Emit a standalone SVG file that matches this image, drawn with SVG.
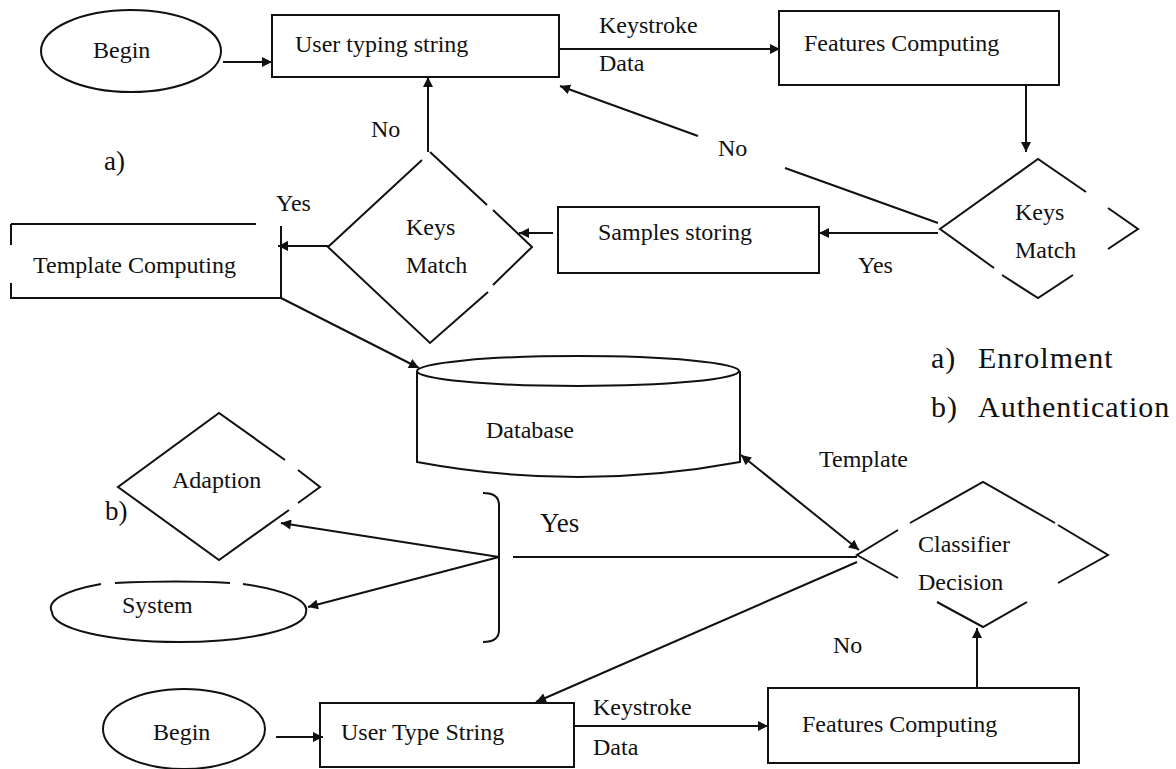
<svg xmlns="http://www.w3.org/2000/svg" width="1176" height="769" viewBox="0 0 1176 769">
<style>
.s{fill:none;stroke:#111;stroke-width:2}
.t{font-family:'Liberation Serif','DejaVu Serif',serif;font-size:24px;fill:#111}
.big{font-size:27px}
.leg{font-size:30px;letter-spacing:1px}
</style>
<defs>
<marker id="ah" viewBox="0 0 10 10" refX="10" refY="5" markerWidth="11" markerHeight="10" orient="auto-start-reverse" markerUnits="userSpaceOnUse"><path d="M0,0 L10,5 L0,10 z" fill="#111"/></marker>
</defs>
<rect width="1176" height="769" fill="#fff"/>

<g id="begin1"><ellipse class="s" cx="131" cy="51" rx="90" ry="41"/><text class="t" x="93" y="58">Begin</text></g>
<g id="userTyping"><rect class="s" x="272" y="15" width="287" height="62"/><text class="t" x="295" y="52">User typing string</text></g>
<g id="features1"><rect class="s" x="779" y="11" width="280" height="74"/><text class="t" x="804" y="51">Features Computing</text></g>
<g id="keysMatchR"><path class="s" d="M994,268 L940,229 L1038,159 L1086,192 M1108,208 L1138,229 L1108,249 M1073,275 L1038,298 L1002,275"/><text class="t" x="1015" y="220">Keys</text><text class="t" x="1015" y="258">Match</text></g>
<g id="samples"><rect class="s" x="558" y="207" width="261" height="66"/><text class="t" x="598" y="240">Samples storing</text></g>
<g id="keysMatchL"><path class="s" d="M422,160 L328,247 L430,343 L488,292 M493,285 L532,247 L493,210 M487,205 L430,152"/><text class="t" x="406" y="235">Keys</text><text class="t" x="406" y="273">Match</text></g>
<g id="template"><path class="s" d="M11,224 L256,224 M281,226 L281,298 L11,298 L11,283 M11,245 L11,224"/><text class="t" x="33" y="273">Template Computing</text></g>
<g id="database"><path class="s" d="M417,371 L417,462 Q578,492 740,462 L740,371"/><ellipse class="s" cx="578" cy="371" rx="161" ry="15"/><text class="t" x="486" y="438">Database</text></g>
<g id="classifier"><path class="s" d="M898,530 L857,555 L898,578 M910,523 L983,482 L1055,523 M1058,525 L1108,555 L1058,583 M937,602 L983,627 L1027,602"/><text class="t" x="918" y="552">Classifier</text><text class="t" x="918" y="590">Decision</text></g>
<g id="adaption"><path class="s" d="M285,460 L219,413 L118,487 L219,560 L289,510 M298,503 L320,487 L298,470"/><text class="t" x="172" y="488">Adaption</text></g>
<g id="system"><path class="s" d="M243,584 A127,30 0 0 1 306,612 A127,30 0 0 1 52,612 A127,30 0 0 1 101,584 M115,583 Q179,580 230,583"/><text class="t" x="122" y="613">System</text></g>
<g id="bracket"><path class="s" d="M483,493 Q499,493 499,505 L499,630 Q499,642 483,642"/></g>
<g id="begin2"><ellipse class="s" cx="184" cy="729" rx="81" ry="40"/><text class="t" x="153" y="740">Begin</text></g>
<g id="userType"><rect class="s" x="320" y="703" width="254" height="64"/><text class="t" x="341" y="740">User Type String</text></g>
<g id="features2"><rect class="s" x="768" y="688" width="311" height="75"/><text class="t" x="802" y="732">Features Computing</text></g>

<g id="connectors" class="s" marker-end="url(#ah)">
<path d="M223,62 L272,62"/>
<path d="M559,49 L780,49"/>
<path d="M1026,85 L1026,152"/>
<path d="M938,223 L785,168" marker-end="none"/>
<path d="M698,136 L560,86"/>
<path d="M938,233 L819,233"/>
<path d="M553,233 L519,233"/>
<path d="M428,152 L428,77"/>
<path d="M329,246 L278,246"/>
<path d="M281,298 L419,368"/>
<path d="M741,455 L859,550" marker-start="url(#ah)"/>
<path d="M857,557 L513,557" marker-end="none"/>
<path d="M499,557 L281,523"/>
<path d="M499,557 L308,607"/>
<path d="M857,562 L536,702"/>
<path d="M276,737 L323,737"/>
<path d="M574,726 L768,726"/>
<path d="M977,688 L977,628"/>
</g>

<g id="labels">
<text class="t" x="599" y="33">Keystroke</text>
<text class="t" x="599" y="71">Data</text>
<text class="t" x="718" y="156">No</text>
<text class="t" x="858" y="273">Yes</text>
<text class="t" x="371" y="137">No</text>
<text class="t" x="276" y="211">Yes</text>
<text class="t big" x="104" y="170">a)</text>
<text class="t" x="819" y="467">Template</text>
<text class="t big" x="540" y="532">Yes</text>
<text class="t big" x="105" y="520">b)</text>
<text class="t" x="833" y="653">No</text>
<text class="t" x="593" y="715">Keystroke</text>
<text class="t" x="593" y="755">Data</text>
<text class="t leg" x="931" y="368">a)</text>
<text class="t leg" x="978" y="368">Enrolment</text>
<text class="t leg" x="931" y="417">b)</text>
<text class="t leg" x="978" y="417">Authentication</text>
</g>
</svg>
